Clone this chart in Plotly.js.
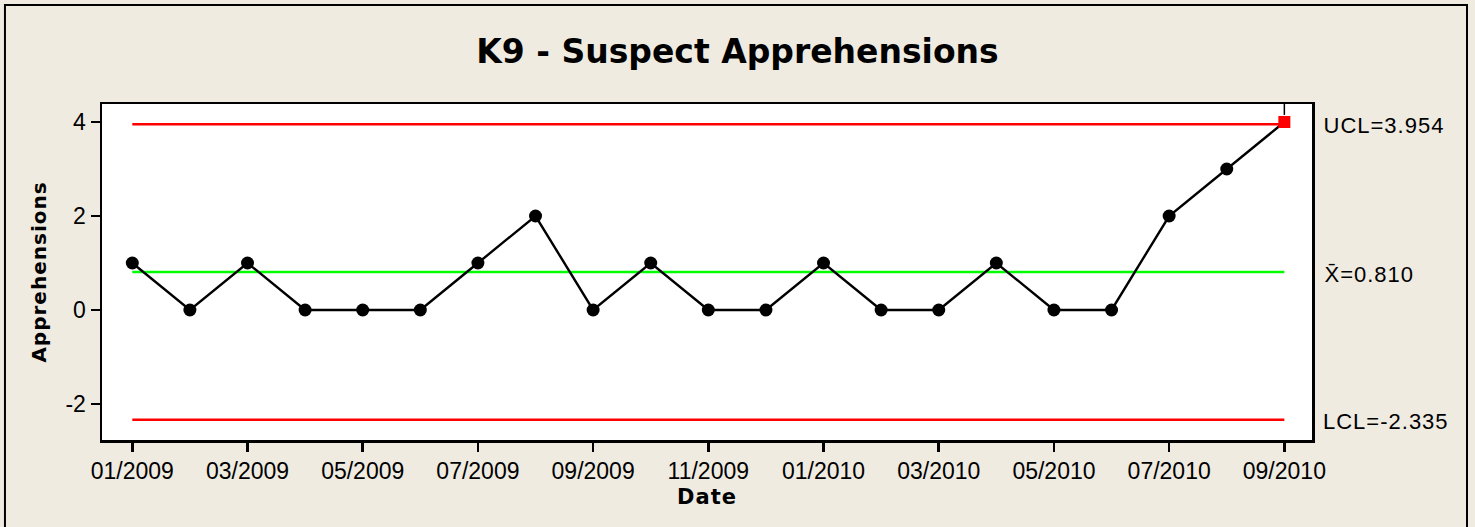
<!DOCTYPE html>
<html>
<head>
<meta charset="utf-8">
<script src="https://cdn.plot.ly/plotly-3.0.1.min.js"></script>
<style>
  html, body { margin: 0; padding: 0; background: #EFEBE1; }
  #chart { width: 1475px; height: 527px; }
</style>
</head>
<body>
<div id="chart"></div>
<script>
// ---- data ----
const months = ["01/2009","02/2009","03/2009","04/2009","05/2009","06/2009","07/2009",
                "08/2009","09/2009","10/2009","11/2009","12/2009","01/2010","02/2010",
                "03/2010","04/2010","05/2010","06/2010","07/2010","08/2010","09/2010"];
const apprehensions = [1,0,1,0,0,0,1,2,0,1,0,0,1,0,0,1,0,0,2,3,4];
const UCL = 3.954;
const CL = 0.810;
const LCL = -2.335;
const tickLabels = ["01/2009","03/2009","05/2009","07/2009","09/2009","11/2009",
                    "01/2010","03/2010","05/2010","07/2010","09/2010"];
const yTicks = [-2, 0, 2, 4];

// ---- derived ----
const n = apprehensions.length;
const inIdx = months.slice(0, n - 1);
const inVals = apprehensions.slice(0, n - 1);
const outIdx = [months[n - 1]];
const outVals = [apprehensions[n - 1]];
const firstLast = [months[0], months[n - 1]];
const yRange = [-2.766, 4.383];

const traces = [
  { x: firstLast, y: [UCL, UCL], mode: 'lines', line: { color: '#FF0000', width: 2.5 }, hoverinfo: 'skip' },
  { x: firstLast, y: [CL, CL], mode: 'lines', line: { color: '#00FF00', width: 2.5 }, hoverinfo: 'skip' },
  { x: firstLast, y: [LCL, LCL], mode: 'lines', line: { color: '#FF0000', width: 2.5 }, hoverinfo: 'skip' },
  { x: months, y: apprehensions, mode: 'lines', line: { color: '#000000', width: 2.4 } },
  { x: inIdx, y: inVals, mode: 'markers', marker: { color: '#000000', size: 13, symbol: 'circle' } },
  { x: outIdx, y: outVals, mode: 'markers', marker: { color: '#FF0000', size: 12, symbol: 'square' } }
];

const labelFont = { family: 'Liberation Sans, Arial, sans-serif', size: 23, color: '#000' };
const annFont = { family: 'Liberation Sans, Arial, sans-serif', size: 22, color: '#000' };

const layout = {
  width: 1475, height: 527,
  showlegend: false,
  paper_bgcolor: '#EFEBE1',
  plot_bgcolor: '#FFFFFF',
  margin: { l: 102, r: 163, t: 104, b: 87, pad: 0 },
  title: {
    text: '<b>K9 - Suspect Apprehensions</b>',
    font: { family: 'DejaVu Sans, sans-serif', size: 33, color: '#000' },
    x: 0.5, xanchor: 'center', xref: 'container',
    y: 1 - 51 / 527, yanchor: 'middle', yref: 'container'
  },
  xaxis: {
    type: 'category',
    categoryorder: 'array', categoryarray: months,
    range: [-0.526, 20.48],
    tickmode: 'array', tickvals: tickLabels, ticktext: tickLabels,
    ticks: 'outside', ticklen: 9, tickwidth: 2.5, tickcolor: '#000',
    showline: true, linecolor: '#000', linewidth: 2.5, mirror: true,
    showgrid: false, zeroline: false,
    tickfont: labelFont, ticklabelstandoff: 0,
    title: { text: '<b>Date</b>', font: { family: 'DejaVu Sans, sans-serif', size: 21, color: '#000' }, standoff: 6 }
  },
  yaxis: {
    range: yRange,
    tickmode: 'array', tickvals: yTicks, ticktext: yTicks.map(String),
    ticks: 'outside', ticklen: 9, tickwidth: 2.5, tickcolor: '#000',
    showline: true, linecolor: '#000', linewidth: 2.5, mirror: true,
    showgrid: false, zeroline: false,
    tickfont: labelFont, ticklabelstandoff: 0,
    title: { text: '<b>Apprehensions</b>', font: { family: 'DejaVu Sans, sans-serif', size: 20, color: '#000' }, standoff: 14 }
  },
  annotations: [
    { text: 'UCL=' + UCL.toFixed(3), xref: 'paper', x: 1, xshift: 14, xanchor: 'left',
      yref: 'y', y: UCL, yanchor: 'middle', yshift: -1, showarrow: false, font: annFont },
    { text: 'X\u0304=' + CL.toFixed(3), xref: 'paper', x: 1, xshift: 14, xanchor: 'left',
      yref: 'y', y: CL, yanchor: 'middle', yshift: -3, showarrow: false, font: annFont },
    { text: 'LCL=' + LCL.toFixed(3), xref: 'paper', x: 1, xshift: 14, xanchor: 'left',
      yref: 'y', y: LCL, yanchor: 'middle', yshift: -2, showarrow: false, font: annFont }
  ],
  shapes: [
    { type: 'rect', xref: 'paper', yref: 'paper', x0: -0.0802, x1: 1.1281, y0: -0.30, y1: 1.2946,
      line: { color: '#000', width: 2 }, fillcolor: 'rgba(0,0,0,0)', layer: 'below' },
    { type: 'line', xref: 'x', yref: 'y', x0: n - 1, x1: n - 1,
      y0: apprehensions[n - 1] + 0.15, y1: yRange[1], line: { color: '#000', width: 1.5 } }
  ]
};

Plotly.newPlot('chart', traces, layout, { displayModeBar: false, staticPlot: true }).then(function () {
  document.querySelectorAll('.annotation-text').forEach(function (t) { t.style.letterSpacing = '1px'; });
  const yt = document.querySelector('.ytitle');
  if (yt) yt.style.letterSpacing = '1px';
  const xt = document.querySelector('.xtitle');
  if (xt) xt.style.letterSpacing = '1px';
});
</script>
</body>
</html>
